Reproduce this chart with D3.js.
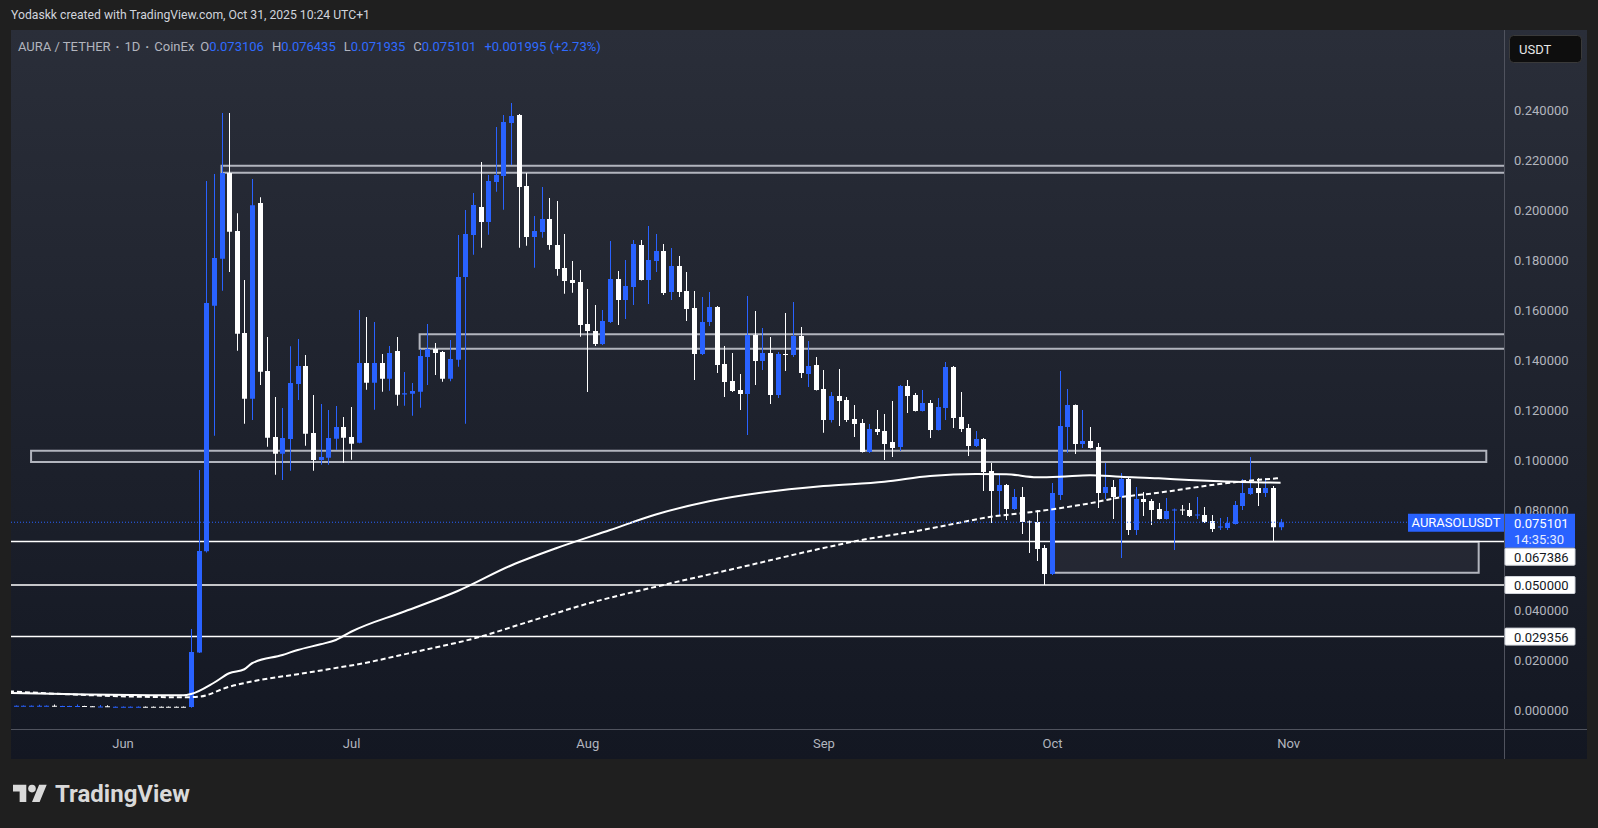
<!DOCTYPE html>
<html>
<head>
<meta charset="utf-8">
<script src="https://cdn.jsdelivr.net/npm/d3@7"></script>
<style>
html, body { margin: 0; padding: 0; background: #1f1f1f; }
svg { display: block; }
text { font-family: Roboto, "Noto Sans", sans-serif; }
</style>
</head>
<body>
<svg id="chart" width="1598" height="828"></svg>
<script>
// daily candles, first one on firstDay, one per day after that
var firstDay = "2025-05-17";
var opens = [
  .0016,.0016,.0016,.0016,.0016,.0016,.0017,.0015,.0015,.0015,.0016,.0015,.0013,.0015,.0012,.0012,.0012,.0012,.0013,.0013,.0013,.0013,.0013,.0013,
  .0012,.0230,.0635,.1617,.1805,.2148,.1916,.1508,.1245,.2028,.1356,.1092,.1025,.1084,.1304,.1376,.1108,.1000,.1009,.1085,.1132,.1092,
  .1069,.1388,.1309,.1388,.1325,.1436,.1262,.1265,.1273,.1412,.1444,.1432,.1325,.1401,.1732,.1900,.2012,.1952,.2112,.2136,.2348,.2380,
  .2096,.1892,.1912,.1964,.1860,.1768,.1720,.1712,.1544,.1516,.1464,.1552,.1724,.1640,.1692,.1860,.1720,.1796,.1836,.1672,.1776,.1676,
  .1608,.1424,.1552,.1612,.1384,.1316,.1280,.1264,.1500,.1396,.1428,.1260,.1424,.1420,.1496,.1344,.1380,.1284,.1160,.1256,.1240,.1164,
  .1148,.1032,.1124,.1116,.1072,.1052,.1296,.1260,.1196,.1228,.1120,.1208,.1372,.1172,.1128,.1056,.1084,.0956,.0876,.0900,.0804,.0852,
  .0754,.0752,.0648,.0544,
  .0860,.1132,.1220,.1064,.1076,.1052,.0868,.0892,.0852,.0924,.0720,.0844,.0836,.0804,.0764,.0798,.0802,.0800,.0778,.0780,.0756,.0730,
  .0728,.0744,.0816,.0864,.0888,.0868,.0888,.073106
];
var highs = [
  .0018,.0018,.0018,.0018,.0021,.0018,.0022,.0017,.0017,.0022,.0017,.0016,.0020,.0019,.0014,.0014,.0014,.0014,.0014,.0014,.0014,.0014,.0014,.0014,
  .0324,.0960,.2116,.2144,.2388,.2388,.1987,.1720,.2124,.2051,.1492,.1252,.1208,.1455,.1484,.1420,.1260,.1224,.1200,.1216,.1172,.1212,
  .1600,.1572,.1552,.1424,.1456,.1492,.1352,.1308,.1444,.1544,.1468,.1436,.1480,.1900,.2000,.2068,.2192,.2140,.2332,.2380,.2428,.2384,
  .2148,.1976,.2092,.2048,.2036,.1904,.1796,.1760,.1684,.1620,.1600,.1876,.1756,.1800,.1880,.1880,.1936,.1904,.1864,.1848,.1816,.1752,
  .1676,.1652,.1672,.1616,.1456,.1428,.1344,.1656,.1596,.1528,.1492,.1432,.1588,.1632,.1532,.1476,.1412,.1360,.1272,.1364,.1252,.1220,
  .1164,.1144,.1200,.1184,.1236,.1300,.1320,.1268,.1280,.1240,.1248,.1392,.1376,.1272,.1144,.1116,.1088,.0988,.0944,.0904,.0884,.0892,
  .0758,.0800,.0660,.0908,
  .1356,.1284,.1222,.1200,.1132,.1068,.0988,.0920,.0948,.0928,.0892,.0872,.0844,.0828,.0848,.0806,.0820,.0828,.0852,.0812,.0780,.0768,
  .0772,.0836,.0924,.1012,.0928,.0928,.0896,.076435
];
var lows = [
  .0015,.0015,.0015,.0015,.0015,.0015,.0014,.0014,.0014,.0014,.0013,.0013,.0012,.0012,.0011,.0011,.0011,.0011,.0011,.0011,.0011,.0011,.0011,.0011,
  .0009,.0228,.0630,.1097,.1677,.1752,.1437,.1145,.1160,.1300,.1053,.0941,.0920,.0957,.1240,.1057,.0957,.0981,.0981,.1040,.0989,.1001,
  .1067,.1281,.1201,.1273,.1277,.1217,.1217,.1177,.1209,.1300,.1340,.1313,.1315,.1373,.1145,.1821,.1849,.1901,.2073,.2001,.2180,.1849,
  .1857,.1769,.1889,.1841,.1737,.1665,.1669,.1493,.1272,.1456,.1460,.1548,.1540,.1564,.1620,.1718,.1624,.1752,.1660,.1640,.1652,.1556,
  .1320,.1420,.1536,.1348,.1252,.1272,.1200,.1100,.1300,.1360,.1224,.1248,.1356,.1412,.1328,.1292,.1278,.1109,.1150,.1136,.1152,.1092,
  .1030,.1028,.1100,.1000,.1012,.1036,.1188,.1194,.1194,.1088,.1118,.1160,.1128,.1112,.1016,.1052,.0876,.0748,.0780,.0760,.0800,.0704,
  .0628,.0596,.0500,.0540,
  .0840,.1029,.1024,.1048,.1046,.0808,.0844,.0764,.0608,.0700,.0700,.0776,.0740,.0762,.0762,.0640,.0780,.0772,.0764,.0748,.0712,.0720,
  .0720,.0742,.0800,.0860,.0816,.0852,.067386,.071935
];
var closes = [
  .0017,.0017,.0017,.0017,.0017,.0017,.0015,.0016,.0016,.0016,.0014,.0014,.0014,.0013,.0013,.0013,.0013,.0013,.0012,.0012,.0012,.0012,.0012,.0012,
  .0232,.0636,.1628,.1808,.2148,.1913,.1505,.1245,.2019,.1353,.1089,.1025,.1088,.1308,.1376,.1105,.1000,.1012,.1088,.1132,.1089,.1065,
  .1388,.1309,.1388,.1325,.1428,.1261,.1267,.1276,.1416,.1444,.1428,.1325,.1404,.1732,.1904,.2020,.1952,.2116,.2140,.2352,.2376,.2092,
  .1892,.1916,.1964,.1860,.1764,.1716,.1708,.1540,.1516,.1464,.1556,.1724,.1640,.1696,.1864,.1720,.1800,.1836,.1668,.1776,.1672,.1604,
  .1424,.1552,.1612,.1380,.1312,.1276,.1264,.1500,.1396,.1428,.1260,.1424,.1420,.1496,.1348,.1376,.1280,.1160,.1256,.1236,.1160,.1144,
  .1032,.1124,.1112,.1064,.1048,.1296,.1256,.1196,.1228,.1120,.1212,.1372,.1168,.1124,.1056,.1084,.0952,.0876,.0900,.0804,.0852,.0752,
  .0750,.0644,.0544,.0868,
  .1136,.1220,.1064,.1076,.1048,.0868,.0892,.0852,.0924,.0720,.0844,.0832,.0800,.0764,.0796,.0802,.0798,.0776,.0782,.0752,.0724,.0734,
  .0748,.0820,.0868,.0888,.0868,.0888,.0731,.075101
];

// moving averages
var maSolidDates = ["2025-05-15","2025-06-09","2025-06-10","2025-06-13","2025-06-15","2025-06-17","2025-06-18","2025-06-22","2025-06-24",
  "2025-06-27","2025-06-29","2025-07-01","2025-07-08","2025-07-15","2025-07-22","2025-07-28","2025-08-04","2025-08-10","2025-08-17",
  "2025-08-24","2025-09-01","2025-09-09","2025-09-15","2025-09-21","2025-09-25","2025-09-29","2025-10-02","2025-10-06","2025-10-10",
  "2025-10-15","2025-10-19","2025-10-23","2025-10-31"];
var maSolidValues = [.0070,.0059,.0064,.0109,.0147,.0163,.0187,.0220,.0240,.0263,.0280,.0313,.0394,.0476,.0578,.0648,.0720,.0782,.0835,
  .0870,.0896,.0913,.0936,.0944,.0943,.0931,.0933,.0939,.0933,.0927,.0920,.0915,.0909];
var maDashDates = ["2025-05-15","2025-06-09","2025-06-11","2025-06-15","2025-06-19","2025-06-24","2025-06-28","2025-07-03","2025-07-07",
  "2025-07-11","2025-07-17","2025-07-24","2025-08-01","2025-08-11","2025-08-21","2025-09-01","2025-09-06","2025-09-14","2025-09-18",
  "2025-09-23","2025-09-27","2025-10-02","2025-10-06","2025-10-10","2025-10-15","2025-10-19","2025-10-23","2025-10-31"];
var maDashValues = [.0078,.0051,.0053,.0093,.0120,.0143,.0163,.0189,.0216,.0243,.0285,.0350,.0425,.0500,.0570,.0648,.0680,.0720,.0744,
  .0773,.0787,.0807,.0827,.0851,.0869,.0887,.0904,.0928];

// drawings: rectangles (start date, end date or null = extend right, top, bottom) and horizontal rays
var boxStart = ["2025-06-14", "2025-07-10", "2025-05-20", "2025-10-01"];
var boxEnd   = [null, null, "2025-11-27", "2025-11-26"];
var boxTop   = [.2177, .1503, .1037, .0673];
var boxBot   = [.2149, .1445, .0992, .0549];
var rayLevels = [.067386, .050000, .029356];
var rayLabels = ["0.067386", "0.050000", "0.029356"];

var lastPrice = .075101, lastLabel = "0.075101", countdown = "14:35:30", symbolTag = "AURASOLUSDT";
var monthFirst = "2025-06-01", monthLast = "2025-11-01";

var headerText = "Yodaskk created with TradingView.com, Oct 31, 2025 10:24 UTC+1";
var legendTitle = ["AURA / TETHER", "1D", "CoinEx"];
var legendKeys = ["O", "H", "L", "C"];
var legendVals = ["0.073106", "0.076435", "0.071935", "0.075101"];
var legendChange = "+0.001995 (+2.73%)";

// ---------------------------------------------------------------
var svg = d3.select("#chart");
var UP = "#2962ff", DOWN = "#ffffff", AXIS_TXT = "#b2b5be";
var plotL = 11, plotR = 1587, plotT = 30, plotB = 759, axisX = 1504, timeY = 729.5;
var parse = d3.utcParse("%Y-%m-%d");

var x = d3.scaleUtc().domain([parse(monthFirst), parse(monthLast)]).range([122.5, 1288.2]);
var y = d3.scaleLinear().domain([0, 0.24]).range([710, 110]);

var defs = svg.append("defs");
var grad = defs.append("linearGradient").attr("id", "bg").attr("x1", 0).attr("y1", 0).attr("x2", 0).attr("y2", 1);
grad.append("stop").attr("offset", "0%").attr("stop-color", "#2a2e39");
grad.append("stop").attr("offset", "100%").attr("stop-color", "#131722");
defs.append("clipPath").attr("id", "plot").append("rect")
  .attr("x", plotL).attr("y", plotT).attr("width", axisX - plotL).attr("height", timeY - plotT);

svg.append("rect").attr("width", 1598).attr("height", 828).attr("fill", "#1f1f1f");
svg.append("rect").attr("x", plotL).attr("y", plotT).attr("width", plotR - plotL).attr("height", plotB - plotT).attr("fill", "url(#bg)");

// header
svg.append("text").attr("x", 11).attr("y", 15).attr("dominant-baseline", "central")
  .attr("font-size", 12.2).attr("fill", "#d1d4dc").text(headerText);

var plot = svg.append("g").attr("clip-path", "url(#plot)");

// boxes
boxStart.forEach(function(s, i) {
  var x0 = x(parse(s)), x1 = boxEnd[i] ? x(parse(boxEnd[i])) : axisX + 5;
  plot.append("rect").attr("x", x0).attr("y", y(boxTop[i])).attr("width", x1 - x0)
    .attr("height", y(boxBot[i]) - y(boxTop[i]))
    .attr("fill", "rgba(178,181,190,0.075)").attr("stroke", "#b2b5be").attr("stroke-width", 2);
});

// horizontal rays
rayLevels.forEach(function(v) {
  plot.append("line").attr("x1", plotL).attr("x2", axisX).attr("y1", y(v)).attr("y2", y(v))
    .attr("stroke", "#ffffff").attr("stroke-width", 1.5);
});

// candles
var candles = opens.map(function(o, i) {
  return { date: d3.utcDay.offset(parse(firstDay), i), o: o, h: highs[i], l: lows[i], c: closes[i] };
});
var cg = plot.append("g").selectAll("g").data(candles).join("g");
cg.append("line")
  .attr("x1", function(d) { return Math.round(x(d.date)) + 0.5; })
  .attr("x2", function(d) { return Math.round(x(d.date)) + 0.5; })
  .attr("y1", function(d) { return y(d.h); })
  .attr("y2", function(d) { return y(d.l); })
  .attr("stroke", function(d) { return d.c >= d.o ? UP : DOWN; })
  .attr("stroke-width", 1);
cg.append("rect")
  .attr("x", function(d) { return Math.round(x(d.date)) - 2; })
  .attr("width", 5)
  .attr("y", function(d) { return y(Math.max(d.o, d.c)); })
  .attr("height", function(d) { return Math.max(1, Math.abs(y(d.o) - y(d.c))); })
  .attr("fill", function(d) { return d.c >= d.o ? UP : DOWN; });

// moving averages
var line = d3.line().x(function(d) { return x(d[0]); }).y(function(d) { return y(d[1]); }).curve(d3.curveMonotoneX);
plot.append("path").datum(maSolidDates.map(function(s, i) { return [parse(s), maSolidValues[i]]; }))
  .attr("d", line).attr("fill", "none").attr("stroke", "#ffffff").attr("stroke-width", 2);
plot.append("path").datum(maDashDates.map(function(s, i) { return [parse(s), maDashValues[i]]; }))
  .attr("d", line).attr("fill", "none").attr("stroke", "#ffffff").attr("stroke-width", 2)
  .attr("stroke-dasharray", "5,3");

// last price dotted line
plot.append("line").attr("x1", plotL).attr("x2", axisX).attr("y1", y(lastPrice)).attr("y2", y(lastPrice))
  .attr("stroke", UP).attr("stroke-width", 1).attr("stroke-dasharray", "1,2");

// axis frame
svg.append("line").attr("x1", axisX + 0.5).attr("x2", axisX + 0.5).attr("y1", plotT).attr("y2", plotB)
  .attr("stroke", "#50535e").attr("stroke-width", 1);
svg.append("line").attr("x1", plotL).attr("x2", plotR).attr("y1", timeY).attr("y2", timeY)
  .attr("stroke", "#50535e").attr("stroke-width", 1);

// price axis
var yAxis = svg.append("g").attr("transform", "translate(" + axisX + ",0)")
  .call(d3.axisRight(y).tickValues(d3.range(0, 0.2401, 0.02)).tickFormat(d3.format(".6f")).tickSize(0).tickPadding(10));
yAxis.select(".domain").remove();
yAxis.selectAll("text").attr("fill", AXIS_TXT).attr("font-size", 13).attr("font-family", "Roboto, sans-serif");

// time axis
var xAxis = svg.append("g").attr("transform", "translate(0," + timeY + ")")
  .call(d3.axisBottom(x).ticks(d3.utcMonth.every(1)).tickFormat(d3.utcFormat("%b")).tickSize(0).tickPadding(9));
xAxis.select(".domain").remove();
xAxis.selectAll("text").attr("fill", AXIS_TXT).attr("font-size", 13).attr("font-family", "Roboto, sans-serif");

// USDT button
svg.append("rect").attr("x", 1509.5).attr("y", 35.5).attr("width", 72).attr("height", 27).attr("rx", 4)
  .attr("fill", "#0e0e0e").attr("stroke", "#3a3a3a");
svg.append("text").attr("x", 1519).attr("y", 49).attr("dominant-baseline", "central")
  .attr("font-size", 13).attr("fill", "#e8e8e8").text("USDT");

// price labels
var py = y(lastPrice);
svg.append("rect").attr("x", 1408).attr("y", py - 8.5).attr("width", axisX - 1408).attr("height", 18).attr("fill", UP);
svg.append("text").attr("x", 1456).attr("y", py + 0.5).attr("text-anchor", "middle").attr("dominant-baseline", "central")
  .attr("font-size", 13).attr("fill", "#ffffff").text(symbolTag);
svg.append("rect").attr("x", axisX + 1).attr("y", py - 8.5).attr("width", 70).attr("height", 34).attr("fill", UP);
svg.append("text").attr("x", 1514).attr("y", py + 1).attr("dominant-baseline", "central")
  .attr("font-size", 13).attr("fill", "#ffffff").text(lastLabel);
svg.append("text").attr("x", 1514).attr("y", py + 17).attr("dominant-baseline", "central")
  .attr("font-size", 13).attr("fill", "#e6ebff").text(countdown);

rayLevels.forEach(function(v, i) {
  var cy = Math.max(y(v), i === 0 ? py + 34.5 : 0);
  svg.append("rect").attr("x", axisX + 1).attr("y", cy - 8.5).attr("width", 70).attr("height", 17)
    .attr("rx", 1).attr("fill", "#ffffff").attr("stroke", "#d0d3da").attr("stroke-width", 1);
  svg.append("text").attr("x", 1514).attr("y", cy + 0.5).attr("dominant-baseline", "central")
    .attr("font-size", 13).attr("fill", "#131722").text(rayLabels[i]);
});

// legend
var lg = svg.append("text").attr("x", 18).attr("y", 46).attr("dominant-baseline", "central").attr("font-size", 13);
legendTitle.forEach(function(t, i) {
  if (i > 0) lg.append("tspan").attr("dx", 5).attr("fill", AXIS_TXT).attr("font-weight", 700).text("\u00b7");
  lg.append("tspan").attr("dx", i > 0 ? 5 : 0).attr("fill", AXIS_TXT).text(t);
});
legendKeys.forEach(function(k, i) {
  lg.append("tspan").attr("dx", i === 0 ? 6 : 8).attr("fill", AXIS_TXT).text(k);
  lg.append("tspan").attr("fill", "#2f6bff").text(legendVals[i]);
});
lg.append("tspan").attr("dx", 8).attr("fill", "#2f6bff").text(legendChange);

// TradingView logo
var logo = svg.append("g").attr("transform", "translate(13,781) scale(0.95)").attr("fill", "#d9d9d9");
logo.append("path").attr("d", "M14 22H7V11H0V4h14v18zM28 22h-8l7.5-18h8L28 22z");
logo.append("circle").attr("cx", 20).attr("cy", 8).attr("r", 4);
svg.append("text").attr("x", 55).attr("y", 794).attr("dominant-baseline", "central")
  .attr("font-size", 24).attr("font-weight", 700).attr("fill", "#d9d9d9").text("TradingView");
</script>
</body>
</html>
